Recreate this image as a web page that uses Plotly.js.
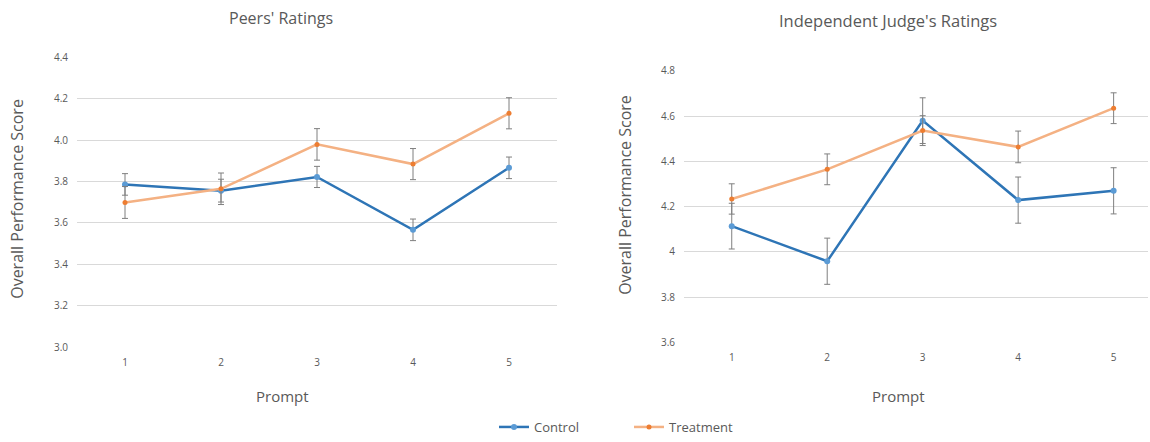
<!DOCTYPE html>
<html>
<head>
<meta charset="utf-8">
<script src="https://cdn.plot.ly/plotly-3.0.1.min.js"></script>
<style>html,body{margin:0;padding:0;background:#fff;overflow:hidden;width:1150px;height:442px;}#chart{width:1150px;height:442px;}</style>
</head>
<body>
<div id="chart"></div>
<script>
var prompts = [1, 2, 3, 4, 5];
var promptLabels = ["1", "2", "3", "4", "5"];

var peersControl = [3.786, 3.756, 3.822, 3.567, 3.866];
var peersControlErr = [0.052, 0.055, 0.051, 0.052, 0.052];
var peersTreatment = [3.699, 3.765, 3.979, 3.884, 4.129];
var peersTreatmentErr = [0.077, 0.076, 0.076, 0.075, 0.075];

var judgeControl = [4.114, 3.959, 4.580, 4.229, 4.270];
var judgeControlErr = [0.101, 0.102, 0.101, 0.102, 0.102];
var judgeTreatment = [4.234, 4.365, 4.536, 4.464, 4.635];
var judgeTreatmentErr = [0.067, 0.068, 0.066, 0.070, 0.068];

var peersTicks = [3.0, 3.2, 3.4, 3.6, 3.8, 4.0, 4.2, 4.4];
var judgeTicks = [3.6, 3.8, 4.0, 4.2, 4.4, 4.6, 4.8];

var FONT = "Open Sans, Noto Sans, sans-serif";
var TXT = "#595959";
var ctrlLine = "#2E75B6", ctrlMarker = "#5B9BD5";
var trtLine = "#F4B183", trtMarker = "#ED7D31";
var errColor = "#7F7F7F";

function mk(name, x, y, err, xa, ya, line, marker, msize, show) {
  return {
    type: "scatter", mode: "lines+markers", name: name,
    x: x, y: y, xaxis: xa, yaxis: ya, showlegend: show,
    line: {color: line, width: 2.5},
    marker: {color: marker, size: msize},
    error_y: {type: "data", array: err, visible: true, color: errColor, thickness: 1, width: 3},
    cliponaxis: false
  };
}

var data = [
  mk("Control", prompts, peersControl, peersControlErr, "x", "y", ctrlLine, ctrlMarker, 6, true),
  mk("Treatment", prompts, peersTreatment, peersTreatmentErr, "x", "y", trtLine, trtMarker, 5, true),
  mk("Control", prompts, judgeControl, judgeControlErr, "x2", "y2", ctrlLine, ctrlMarker, 6, false),
  mk("Treatment", prompts, judgeTreatment, judgeTreatmentErr, "x2", "y2", trtLine, trtMarker, 5, false)
];

var W = 1150, H = 442;
function fx(p) { return p / W; }
function fy(p) { return 1 - p / H; }

var xCommon = {
  tickvals: prompts, ticktext: promptLabels, showgrid: false, zeroline: false, showline: false,
  ticks: "outside", ticklen: 6, tickcolor: "rgba(0,0,0,0)",
  tickfont: {family: FONT, size: 10, color: TXT}, fixedrange: true
};
var yCommon = {
  showgrid: true, gridcolor: "#D9D9D9", gridwidth: 1, zeroline: false, showline: false,
  ticks: "outside", ticklen: 6, tickcolor: "rgba(0,0,0,0)",
  tickfont: {family: FONT, size: 10, color: TXT}, fixedrange: true
};

var layout = {
  width: W, height: H,
  margin: {l: 0, r: 0, t: 0, b: 0},
  paper_bgcolor: "#fff", plot_bgcolor: "#fff",
  font: {family: FONT, color: TXT},
  showlegend: true,
  legend: {
    orientation: "h", x: fx(494), xanchor: "left", y: fy(434), yanchor: "middle",
    font: {family: FONT, size: 13, color: TXT},
    entrywidth: 90, entrywidthmode: "pixels", itemwidth: 30,
    bgcolor: "rgba(0,0,0,0)"
  },
  xaxis: Object.assign({}, xCommon, {domain: [fx(77), fx(557)], range: [0.5, 5.5], anchor: "y"}),
  yaxis: Object.assign({}, yCommon, {domain: [fy(353), fy(58)], range: [3.0, 4.4], tickvals: peersTicks, tickformat: ".1f", anchor: "x"}),
  xaxis2: Object.assign({}, xCommon, {domain: [fx(684), fx(1148)], range: [0.5, 5.36], anchor: "y2"}),
  yaxis2: Object.assign({}, yCommon, {domain: [fy(348), fy(72)], range: [3.6, 4.8], tickvals: judgeTicks, anchor: "x2"}),
  annotations: [
    {text: "Peers' Ratings", xref: "paper", yref: "paper", x: fx(281), y: fy(18), xanchor: "center", yanchor: "middle", showarrow: false, font: {family: FONT, size: 16, color: TXT}},
    {text: "Independent Judge's Ratings", xref: "paper", yref: "paper", x: fx(888), y: fy(21), xanchor: "center", yanchor: "middle", showarrow: false, font: {family: FONT, size: 16.5, color: TXT}},
    {text: "Overall Performance Score", xref: "paper", yref: "paper", x: fx(17), y: fy(202), xanchor: "center", yanchor: "middle", textangle: -90, showarrow: false, font: {family: FONT, size: 16, color: TXT}},
    {text: "Overall Performance Score", xref: "paper", yref: "paper", x: fx(625), y: fy(198), xanchor: "center", yanchor: "middle", textangle: -90, showarrow: false, font: {family: FONT, size: 16, color: TXT}},
    {text: "Prompt", xref: "paper", yref: "paper", x: fx(282), y: fy(402), xanchor: "center", yanchor: "middle", showarrow: false, font: {family: FONT, size: 15, color: TXT}},
    {text: "Prompt", xref: "paper", yref: "paper", x: fx(898), y: fy(402), xanchor: "center", yanchor: "middle", showarrow: false, font: {family: FONT, size: 15, color: TXT}}
  ]
};

Plotly.newPlot("chart", data, layout, {displayModeBar: false, staticPlot: true});
</script>
</body>
</html>
